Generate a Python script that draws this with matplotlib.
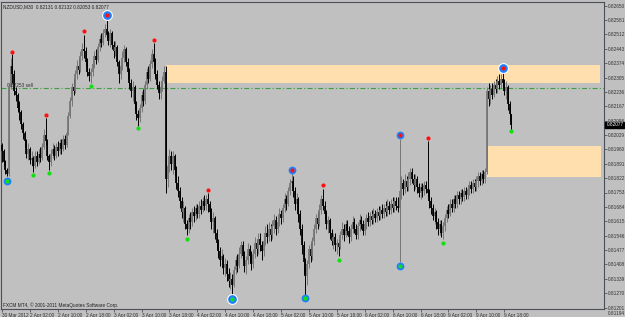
import numpy as np
import matplotlib.pyplot as plt
from matplotlib.transforms import blended_transform_factory

plt.rcParams['font.family'] = ['Liberation Sans Narrow', 'Liberation Sans', 'DejaVu Sans']

# NZDUSD M30, bars from 30 Mar 2012 18:00 to 9 Apr 2012 20:00 (weekend skipped)
first_open = 0.8198
closes = [
    0.8195, 0.8190, 0.8186, 0.8184, 0.8226, 0.8236, 0.8232, 0.8224, 0.8222, 0.8216,
    0.8214, 0.8208, 0.8204, 0.8200, 0.8194, 0.8196, 0.8191, 0.8192, 0.8188, 0.8193,
    0.8190, 0.8194, 0.8192, 0.8197, 0.8203, 0.8200, 0.8193, 0.8190, 0.8194, 0.8196,
    0.8193, 0.8197, 0.8195, 0.8199, 0.8196, 0.8201, 0.8198, 0.8204, 0.8212, 0.8219,
    0.8226, 0.8224, 0.8232, 0.8236, 0.8234, 0.8241, 0.8244, 0.8243, 0.8238, 0.8233,
    0.8231, 0.8233, 0.8237, 0.8241, 0.8239, 0.8245, 0.8249, 0.8247, 0.8252, 0.8254,
    0.8251, 0.8248, 0.8252, 0.8246, 0.8243, 0.8245, 0.8238, 0.8232, 0.8236, 0.8240,
    0.8244, 0.8238, 0.8233, 0.8228, 0.8224, 0.8226, 0.8218, 0.8213, 0.8211, 0.8216,
    0.8222, 0.8219, 0.8227, 0.8233, 0.8230, 0.8237, 0.8242, 0.8238, 0.8232, 0.8227,
    0.8223, 0.8226, 0.8229, 0.8233, 0.8182, 0.8188, 0.8193, 0.8189, 0.8193, 0.8186,
    0.8180, 0.8176, 0.8171, 0.8166, 0.8168, 0.8160, 0.8158, 0.8163, 0.8161, 0.8166,
    0.8164, 0.8168, 0.8165, 0.8169, 0.8167, 0.8171, 0.8169, 0.8172, 0.8170, 0.8166,
    0.8161, 0.8163, 0.8156, 0.8151, 0.8147, 0.8143, 0.8145, 0.8139, 0.8141, 0.8136,
    0.8133, 0.8134, 0.8131, 0.8138, 0.8143, 0.8140, 0.8146, 0.8150, 0.8145, 0.8140,
    0.8143, 0.8148, 0.8145, 0.8141, 0.8146, 0.8151, 0.8148, 0.8153, 0.8150, 0.8147,
    0.8152, 0.8156, 0.8154, 0.8158, 0.8155, 0.8159, 0.8162, 0.8158, 0.8161, 0.8165,
    0.8163, 0.8168, 0.8172, 0.8170, 0.8176, 0.8180, 0.8181, 0.8176, 0.8170, 0.8172,
    0.8165, 0.8158, 0.8150, 0.8142, 0.8135, 0.8141, 0.8148, 0.8145, 0.8152, 0.8158,
    0.8163, 0.8160, 0.8167, 0.8172, 0.8169, 0.8165, 0.8160, 0.8162, 0.8156, 0.8152,
    0.8154, 0.8150, 0.8151, 0.8149, 0.8155, 0.8158, 0.8155, 0.8160, 0.8157, 0.8154,
    0.8158, 0.8161, 0.8158, 0.8155, 0.8159, 0.8162, 0.8160, 0.8157, 0.8160, 0.8163,
    0.8161, 0.8164, 0.8162, 0.8165, 0.8163, 0.8166, 0.8164, 0.8167, 0.8165, 0.8168,
    0.8166, 0.8169, 0.8167, 0.8170, 0.8168, 0.8171, 0.8169, 0.8168, 0.8176, 0.8180,
    0.8177, 0.8181, 0.8178, 0.8182, 0.8185, 0.8182, 0.8179, 0.8182, 0.8178, 0.8175,
    0.8178, 0.8176, 0.8179, 0.8177, 0.8175, 0.8171, 0.8168, 0.8164, 0.8166, 0.8161,
    0.8158, 0.8160, 0.8156, 0.8159, 0.8163, 0.8167, 0.8165, 0.8170, 0.8168, 0.8172,
    0.8170, 0.8174, 0.8172, 0.8175, 0.8173, 0.8176, 0.8174, 0.8177, 0.8179, 0.8177,
    0.8180, 0.8178, 0.8181, 0.8183, 0.8181, 0.8184, 0.8182, 0.8185, 0.8224, 0.8220,
    0.8225, 0.8222, 0.8227, 0.8225, 0.8229, 0.8227, 0.8230, 0.8228, 0.8224, 0.8226,
    0.8218, 0.82131, 0.82077,
]
highs = [
    0.8199, 0.8196, 0.8191, 0.8187, 0.8228, 0.8240, 0.8242, 0.8234, 0.8226, 0.8223,
    0.8219, 0.8215, 0.8209, 0.8205, 0.8201, 0.8199, 0.8197, 0.8195, 0.8193, 0.8195,
    0.8195, 0.8196, 0.8197, 0.8199, 0.8206, 0.8211, 0.8201, 0.8194, 0.8196, 0.8199,
    0.8198, 0.8199, 0.8200, 0.8201, 0.8201, 0.8203, 0.8203, 0.8206, 0.8214, 0.8221,
    0.8228, 0.8230, 0.8234, 0.8239, 0.8240, 0.8243, 0.8247, 0.8251, 0.8245, 0.8240,
    0.8235, 0.8235, 0.8239, 0.8243, 0.8244, 0.8247, 0.8251, 0.8252, 0.8254, 0.8256,
    0.8258, 0.8253, 0.8254, 0.8253, 0.8248, 0.8248, 0.8246, 0.8239, 0.8238, 0.8243,
    0.8246, 0.8245, 0.8240, 0.8235, 0.8230, 0.8229, 0.8227, 0.8219, 0.8215, 0.8218,
    0.8224, 0.8225, 0.8229, 0.8235, 0.8236, 0.8239, 0.8244, 0.8247, 0.8240, 0.8234,
    0.8229, 0.8228, 0.8231, 0.8236, 0.8236, 0.8190, 0.8196, 0.8195, 0.8195, 0.8194,
    0.8188, 0.8183, 0.8178, 0.8173, 0.8171, 0.8169, 0.8162, 0.8165, 0.8166, 0.8168,
    0.8169, 0.8170, 0.8170, 0.8171, 0.8172, 0.8173, 0.8174, 0.8174, 0.8175, 0.8171,
    0.8168, 0.8166, 0.8164, 0.8158, 0.8153, 0.8149, 0.8148, 0.8146, 0.8144, 0.8143,
    0.8139, 0.8137, 0.8136, 0.8140, 0.8145, 0.8146, 0.8149, 0.8152, 0.8152, 0.8147,
    0.8145, 0.8151, 0.8150, 0.8147, 0.8148, 0.8154, 0.8153, 0.8156, 0.8156, 0.8152,
    0.8154, 0.8159, 0.8160, 0.8161, 0.8160, 0.8162, 0.8165, 0.8164, 0.8163, 0.8168,
    0.8167, 0.8170, 0.8175, 0.8174, 0.8178, 0.8182, 0.8185, 0.8183, 0.8178, 0.8175,
    0.8173, 0.8167, 0.8160, 0.8152, 0.8144, 0.8143, 0.8150, 0.8151, 0.8154, 0.8160,
    0.8165, 0.8166, 0.8170, 0.8174, 0.8177, 0.8171, 0.8167, 0.8164, 0.8163, 0.8158,
    0.8156, 0.8156, 0.8153, 0.8153, 0.8157, 0.8161, 0.8160, 0.8162, 0.8162, 0.8159,
    0.8160, 0.8164, 0.8163, 0.8160, 0.8161, 0.8165, 0.8164, 0.8162, 0.8162, 0.8165,
    0.8166, 0.8166, 0.8167, 0.8168, 0.8167, 0.8168, 0.8169, 0.8169, 0.8170, 0.8170,
    0.8171, 0.8172, 0.8171, 0.8172, 0.8173, 0.8173, 0.8173, 0.8173, 0.8201, 0.8183,
    0.8182, 0.8184, 0.8183, 0.8185, 0.8187, 0.8187, 0.8184, 0.8184, 0.8183, 0.8180,
    0.8180, 0.8180, 0.8181, 0.8181, 0.8200, 0.8177, 0.8173, 0.8170, 0.8168, 0.8167,
    0.8163, 0.8162, 0.8162, 0.8161, 0.8165, 0.8169, 0.8170, 0.8172, 0.8172, 0.8174,
    0.8174, 0.8176, 0.8176, 0.8177, 0.8177, 0.8178, 0.8178, 0.8179, 0.8181, 0.8181,
    0.8182, 0.8182, 0.8183, 0.8185, 0.8185, 0.8186, 0.8186, 0.8187, 0.8226, 0.8228,
    0.8227, 0.8228, 0.8229, 0.8230, 0.8231, 0.8232, 0.8232, 0.8234, 0.8230, 0.8229,
    0.8227, 0.8219, 0.82132,
]
lows = [
    0.8190, 0.8188, 0.8184, 0.8183, 0.8183, 0.8225, 0.8228, 0.8222, 0.8219, 0.8214,
    0.8210, 0.8206, 0.8201, 0.8197, 0.8192, 0.8191, 0.8189, 0.8188, 0.8185, 0.8187,
    0.8188, 0.8189, 0.8190, 0.8191, 0.8196, 0.8198, 0.8191, 0.8186, 0.8188, 0.8192,
    0.8191, 0.8192, 0.8193, 0.8194, 0.8194, 0.8195, 0.8196, 0.8197, 0.8203, 0.8211,
    0.8217, 0.8222, 0.8223, 0.8230, 0.8232, 0.8233, 0.8239, 0.8240, 0.8236, 0.8231,
    0.8229, 0.8228, 0.8231, 0.8235, 0.8237, 0.8238, 0.8243, 0.8245, 0.8246, 0.8250,
    0.8249, 0.8246, 0.8245, 0.8244, 0.8240, 0.8241, 0.8236, 0.8228, 0.8230, 0.8234,
    0.8238, 0.8236, 0.8230, 0.8225, 0.8221, 0.8219, 0.8215, 0.8210, 0.8207, 0.8209,
    0.8214, 0.8217, 0.8218, 0.8225, 0.8228, 0.8229, 0.8235, 0.8236, 0.8230, 0.8225,
    0.8220, 0.8220, 0.8224, 0.8228, 0.8175, 0.8178, 0.8185, 0.8186, 0.8184, 0.8183,
    0.8177, 0.8173, 0.8168, 0.8163, 0.8161, 0.8158, 0.8155, 0.8156, 0.8158, 0.8159,
    0.8161, 0.8162, 0.8163, 0.8163, 0.8165, 0.8166, 0.8167, 0.8167, 0.8166, 0.8163,
    0.8158, 0.8156, 0.8153, 0.8148, 0.8144, 0.8140, 0.8139, 0.8136, 0.8135, 0.8133,
    0.8130, 0.8129, 0.8126, 0.8130, 0.8136, 0.8137, 0.8139, 0.8144, 0.8143, 0.8137,
    0.8136, 0.8141, 0.8142, 0.8138, 0.8139, 0.8144, 0.8145, 0.8146, 0.8147, 0.8143,
    0.8145, 0.8150, 0.8151, 0.8152, 0.8152, 0.8153, 0.8156, 0.8155, 0.8156, 0.8159,
    0.8160, 0.8161, 0.8166, 0.8167, 0.8169, 0.8174, 0.8177, 0.8173, 0.8167, 0.8165,
    0.8161, 0.8155, 0.8146, 0.8136, 0.8126, 0.8131, 0.8139, 0.8142, 0.8143, 0.8150,
    0.8156, 0.8158, 0.8159, 0.8165, 0.8167, 0.8162, 0.8158, 0.8156, 0.8153, 0.8150,
    0.8148, 0.8147, 0.8146, 0.8145, 0.8148, 0.8153, 0.8152, 0.8154, 0.8155, 0.8151,
    0.8152, 0.8156, 0.8156, 0.8153, 0.8153, 0.8157, 0.8158, 0.8155, 0.8155, 0.8158,
    0.8159, 0.8159, 0.8160, 0.8160, 0.8161, 0.8161, 0.8162, 0.8162, 0.8163, 0.8163,
    0.8164, 0.8164, 0.8165, 0.8165, 0.8166, 0.8166, 0.8167, 0.8166, 0.8142, 0.8172,
    0.8174, 0.8175, 0.8176, 0.8176, 0.8179, 0.8180, 0.8176, 0.8177, 0.8175, 0.8173,
    0.8172, 0.8173, 0.8174, 0.8175, 0.8173, 0.8168, 0.8165, 0.8162, 0.8160, 0.8158,
    0.8155, 0.8155, 0.8154, 0.8153, 0.8157, 0.8161, 0.8163, 0.8164, 0.8166, 0.8166,
    0.8168, 0.8168, 0.8170, 0.8170, 0.8171, 0.8171, 0.8172, 0.8172, 0.8174, 0.8175,
    0.8175, 0.8176, 0.8176, 0.8178, 0.8179, 0.8179, 0.8180, 0.8180, 0.8184, 0.8217,
    0.8218, 0.8220, 0.8221, 0.8223, 0.8223, 0.8225, 0.8225, 0.8226, 0.8222, 0.8220,
    0.8215, 0.8209, 0.82053,
]

time_labels = ['30 Mar 2012', '2 Apr 02:00', '2 Apr 10:00', '2 Apr 18:00',
               '3 Apr 02:00', '3 Apr 10:00', '3 Apr 18:00', '4 Apr 02:00',
               '4 Apr 10:00', '4 Apr 18:00', '5 Apr 02:00', '5 Apr 10:00',
               '5 Apr 18:00', '6 Apr 02:00', '6 Apr 10:00', '6 Apr 18:00',
               '9 Apr 02:00', '9 Apr 10:00', '9 Apr 18:00']
bars_per_label = 16

price_ticks = [0.82650, 0.82581, 0.82512, 0.82443, 0.82374, 0.82305, 0.82236,
               0.82167, 0.82098, 0.82029, 0.81960, 0.81891, 0.81822, 0.81753,
               0.81684, 0.81615, 0.81546, 0.81477, 0.81408, 0.81339, 0.81270,
               0.81201]

# zigzag / fractal marks
hi_idx = [6, 25, 47, 87, 118, 184, 244]
hi_px = [0.82427, 0.82125, 0.82528, 0.82485, 0.81765, 0.81789, 0.82015]
lo_idx = [18, 27, 51, 78, 106, 193, 253, 292]
lo_px = [0.81837, 0.81847, 0.82264, 0.82063, 0.81530, 0.81429, 0.81511, 0.82048]
top_idx = [60, 166, 228, 287]
top_px = [0.82605, 0.81861, 0.82029, 0.82351]
top_ring = [True, False, False, True]
bot_idx = [3, 132, 174, 228]
bot_px = [0.81808, 0.81242, 0.81247, 0.81400]
bot_ring = [False, True, False, False]

# supply / demand zones
zone_up = (94, 343, 0.82280, 0.82365)
zone_dn = (278, 343.5, 0.81829, 0.81978)
sell_level = 0.82253

BG = '#c0c0c0'
FS = 3.4
fig = plt.figure(figsize=(6.25, 3.17), dpi=100)
fig.patch.set_facecolor(BG)
ax = fig.add_axes([1 / 625, 8 / 317, 603 / 625, 307 / 317])
ax.set_facecolor(BG)

c = np.array(closes)
h = np.array(highs)
l = np.array(lows)
o = np.array([first_open] + closes[:-1])
x = np.arange(len(c))
cols = np.where(c >= o, '#767676', '#000000')

for z in (zone_up, zone_dn):
    ax.fill_between([z[0], z[1]], z[2], z[3], color='#ffdfae', lw=0, zorder=1)
ax.axhline(sell_level, color='#3f9f3f', lw=0.8, ls=(0, (4.5, 2, 1, 2)), zorder=2)
ax.text(3, sell_level + 0.00003, '0.82253 sell', fontsize=FS, color='#303030',
        va='bottom', ha='left', zorder=6)

ax.vlines(x, l, h, colors=cols, lw=0.7, zorder=3)
ax.vlines(x, np.minimum(o, c), np.maximum(o, c), colors=cols, lw=1.25, zorder=3)

ax.plot(hi_idx, hi_px, 'o', ms=3, color='#ff1010', mec='none', zorder=5)
ax.plot(lo_idx, lo_px, 'o', ms=3, color='#10e010', mec='none', zorder=5)
for idxs, pxs, rings, inner in ((top_idx, top_px, top_ring, '#ff1010'),
                               (bot_idx, bot_px, bot_ring, '#10e010')):
    for i, p, r in zip(idxs, pxs, rings):
        if r:
            ax.plot(i, p, 'o', ms=7.8, color='white', mec='none', zorder=5)
            ax.plot(i, p, 'o', ms=6.3, color='#1e80ff', mec='none', zorder=5)
        else:
            ax.plot(i, p, 'o', ms=5.6, color='#1e80ff', mec='none', zorder=5)
        ax.plot(i, p, 'o', ms=3, color=inner, mec='none', zorder=6)

ax.set_xlim(-0.573, 345.18)
ax.set_ylim(0.811938, 0.826674)

ax.yaxis.tick_right()
ax.set_yticks(price_ticks)
ax.set_yticklabels(['%.5f' % v for v in price_ticks])
ax.set_xticks([i * bars_per_label for i in range(len(time_labels))])
ax.set_xticklabels(time_labels)
for lb in ax.get_xticklabels():
    lb.set_horizontalalignment('left')
ax.tick_params(axis='both', labelsize=FS, length=2, width=0.5,
               color='#404040', labelcolor='#303030', pad=1)
for s in ax.spines.values():
    s.set_color('#4a4f58')
    s.set_linewidth(0.8)

ax.text(0.004, 0.992, 'NZDUSD,M30  0.82131 0.82132 0.82053 0.82077',
        transform=ax.transAxes, fontsize=FS, color='#202020', va='top')
ax.text(0.004, 0.013, 'FXCM MT4, \u00a9 2001-2011 MetaQuotes Software Corp.',
        transform=ax.transAxes, fontsize=FS, color='#202020', va='center')

tr = blended_transform_factory(ax.transAxes, ax.transData)
ax.text(1.004, closes[-1], '%.5f' % closes[-1], transform=tr, fontsize=FS,
        color='white', va='center', ha='left', clip_on=False, zorder=10,
        bbox=dict(boxstyle='square,pad=0.2', fc='black', ec='black'))
fig.text(608 / 625, 1 - 313.5 / 317, '0.81194', fontsize=FS, color='#303030',
         va='center', ha='left')

fig.savefig('out.png', dpi=100, facecolor=BG)
